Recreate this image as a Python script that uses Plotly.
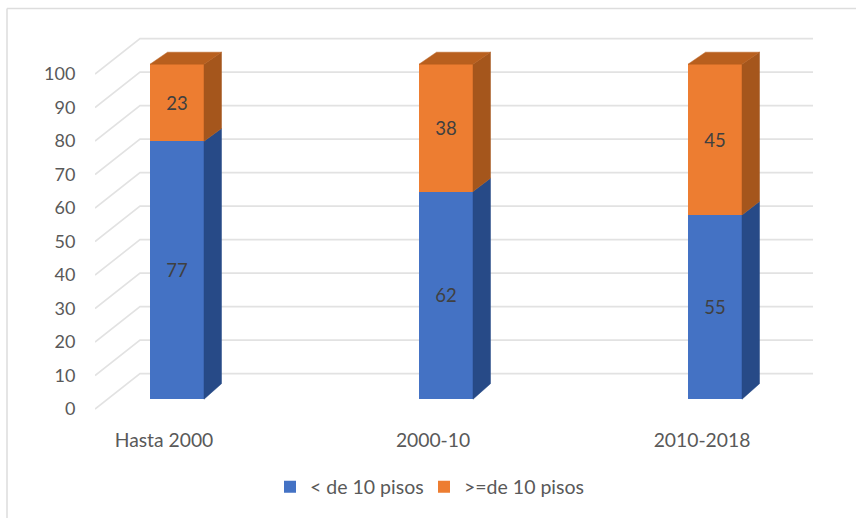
import plotly.graph_objects as go

categories = ["Hasta 2000", "2000-10", "2010-2018"]
below_10 = [77, 62, 55]
above_10 = [23, 38, 45]
series_names = ["< de 10 pisos", ">=de 10 pisos"]
legend_widths = [109, 135]
y_ticks = list(range(0, 101, 10))

W, H = 856, 518
PL, PR, PT, PB = 95, 813, 30, 420
PX_PER_CAT = 269
BAR_PX = 54
DEPTH_X_PX = 17.5
BLUE, ORANGE = "#4472C4", "#ED7D31"
BLUE_SIDE, ORANGE_SIDE = "#274A87", "#A5561C"
ORANGE_TOP = "#B85F1E"

# overlay axes for bars: category 0 at x=177 px, value 0 at y=399 px, 100 at y=65 px
BAR_X0, BAR_Y0, BAR_SCALE = 177, 399.2, 3.35
# base axes for labels and wall: category 0 at x=164 px, value 0 at y=409 px
LAB_X0, LAB_Y0, LAB_SCALE = 164, 409, 3.35
WALL_X_PX = 140
WALL_LIFT = 10.55  # value units on the base axis


def depth_y(v):
    """Receding height of a corner, in value units, a bit smaller towards the top."""
    return (15.5 - 3.5 * v / 100) / BAR_SCALE


fig = go.Figure()

# back wall and side-wall gridlines, on the base axes (drawn under the bars)
x_left = (PL - LAB_X0) / PX_PER_CAT
x_wall = (WALL_X_PX - LAB_X0) / PX_PER_CAT
x_right = (PR - LAB_X0) / PX_PER_CAT
for v in y_ticks:
    fig.add_trace(go.Scatter(
        x=[x_left, x_wall, x_right], y=[v, v + WALL_LIFT, v + WALL_LIFT],
        mode="lines", line=dict(color="#E2E2E2", width=1.6),
        showlegend=False, hoverinfo="skip", xaxis="x", yaxis="y"))

half = BAR_PX / 2 / PX_PER_CAT
ddx = DEPTH_X_PX / PX_PER_CAT
for i in range(len(categories)):
    xr = i + half
    xl = i - half
    lo, mid, hi = 0, below_10[i], below_10[i] + above_10[i]
    for a, b, col in ((lo, mid, BLUE_SIDE), (mid, hi, ORANGE_SIDE)):
        fig.add_trace(go.Scatter(
            x=[xr, xr + ddx, xr + ddx, xr, xr],
            y=[a, a + depth_y(a), b + depth_y(b), b, a],
            mode="lines", fill="toself", fillcolor=col, line=dict(color=col, width=0.5),
            showlegend=False, hoverinfo="skip", xaxis="x2", yaxis="y2"))
    fig.add_trace(go.Scatter(
        x=[xl, xl + ddx, xr + ddx, xr, xl],
        y=[hi, hi + depth_y(hi), hi + depth_y(hi), hi, hi],
        mode="lines", fill="toself", fillcolor=ORANGE_TOP, line=dict(color=ORANGE_TOP, width=0.5),
        showlegend=False, hoverinfo="skip", xaxis="x2", yaxis="y2"))

x_idx = list(range(len(categories)))
for vals, name, col, lw in zip((below_10, above_10), series_names, (BLUE, ORANGE), legend_widths):
    fig.add_trace(go.Bar(
        x=x_idx, y=vals, name=name, width=BAR_PX / PX_PER_CAT, legendwidth=lw,
        marker=dict(color=col, line=dict(width=0)),
        text=vals, textposition="inside", insidetextanchor="middle", textangle=0,
        textfont=dict(color="#404040", size=18.5, family="Lato"),
        xaxis="x2", yaxis="y2"))

fig.update_layout(
    width=W, height=H, barmode="stack",
    margin=dict(l=0, r=0, t=0, b=0, autoexpand=False),
    paper_bgcolor="white", plot_bgcolor="white",
    font=dict(family="Lato", size=19, color="#595959"),
    xaxis=dict(
        domain=[PL / W, PR / W],
        range=[(PL - LAB_X0) / PX_PER_CAT, (PR - LAB_X0) / PX_PER_CAT],
        tickvals=x_idx, ticktext=categories, ticks="outside", ticklen=3,
        tickcolor="rgba(0,0,0,0)", tickfont=dict(size=19.3),
        showgrid=False, zeroline=False, showline=False),
    yaxis=dict(
        domain=[1 - PB / H, 1 - PT / H],
        range=[(LAB_Y0 - PB) / LAB_SCALE, (LAB_Y0 - PT) / LAB_SCALE],
        tickvals=y_ticks, ticks="outside", ticklen=15, tickfont=dict(size=18),
        tickcolor="rgba(0,0,0,0)", showgrid=False, zeroline=False, showline=False),
    xaxis2=dict(
        overlaying="x", anchor="y2",
        range=[(PL - BAR_X0) / PX_PER_CAT, (PR - BAR_X0) / PX_PER_CAT],
        visible=False),
    yaxis2=dict(
        overlaying="y", anchor="x2",
        range=[(BAR_Y0 - PB) / BAR_SCALE, (BAR_Y0 - PT) / BAR_SCALE],
        visible=False),
    legend=dict(
        orientation="h", xanchor="left", yanchor="middle",
        x=270 / W, y=1 - 487 / H, font=dict(size=19.5, color="#595959"),
        bgcolor="rgba(0,0,0,0)", traceorder="normal"),
    shapes=[dict(type="line", xref="paper", yref="paper",
                 x0=7 / W, x1=7 / W, y0=0, y1=1 - 8.5 / H,
                 line=dict(color="#DDDDDD", width=1.5)),
            dict(type="line", xref="paper", yref="paper",
                 x0=7 / W, x1=1, y0=1 - 8.5 / H, y1=1 - 8.5 / H,
                 line=dict(color="#DDDDDD", width=1.5))],
)

fig.write_html("out.html", config={"displayModeBar": False},
               post_script="document.body.style.margin='0';")
